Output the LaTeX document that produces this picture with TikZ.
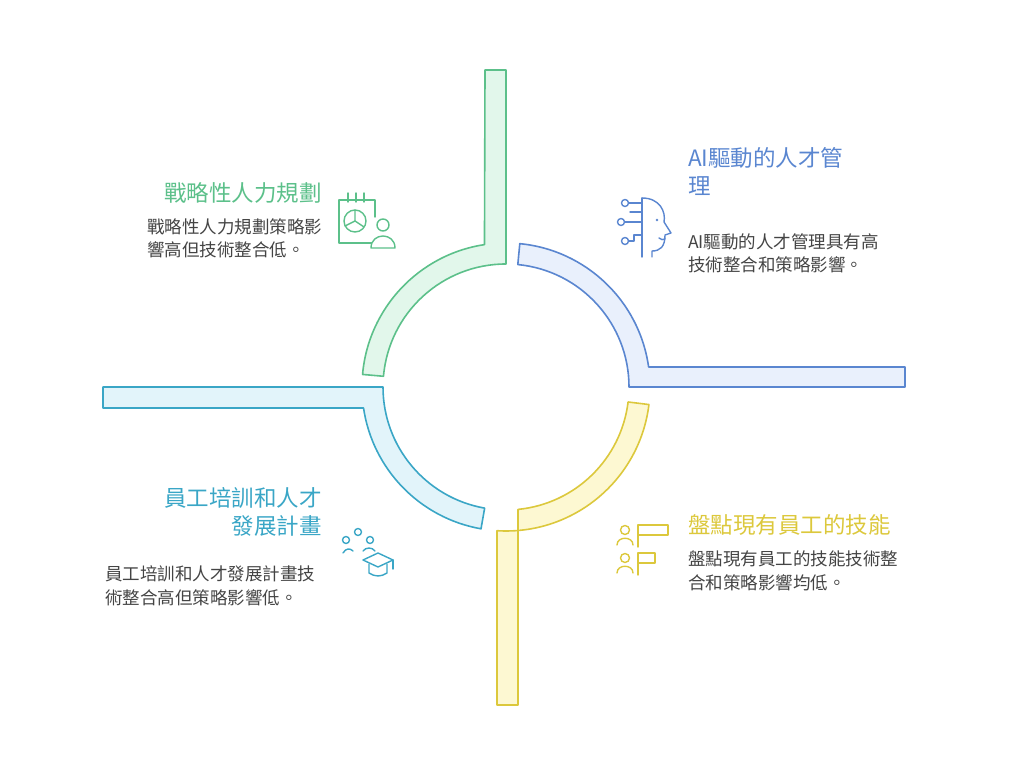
\documentclass[tikz,border=0pt]{standalone}
\usepackage{fontspec}
\setmainfont{Noto Sans CJK TC}
\usetikzlibrary{calc}
\definecolor{grn}{HTML}{5CC08A}
\definecolor{grnf}{HTML}{E2F7EB}
\definecolor{blu}{HTML}{5A86D0}
\definecolor{bluf}{HTML}{E9F0FC}
\definecolor{yel}{HTML}{DCC83C}
\definecolor{yelf}{HTML}{FDF8D2}
\definecolor{cyn}{HTML}{3AA6C6}
\definecolor{cynf}{HTML}{E2F4FA}
\definecolor{txt}{HTML}{444444}
\tikzset{
  ring/.style={line width=1.6pt, line join=round},
  icon/.style={line width=1.4pt, line cap=round, line join=round},
  title/.style={font=\fontsize{22.5}{28}\selectfont, inner sep=0pt},
  desc/.style={font=\fontsize{17.5}{23.5}\selectfont, text=txt, align=left, inner sep=0pt}
}
\begin{document}
\begin{tikzpicture}[x=1pt,y=1pt]
  \useasboundingbox (0,0) rectangle (1024,765);
  \coordinate (C) at (506,378);

  % strategic planning (green)
  \draw[ring, draw=grn, fill=grnf] (485,695) -- (506,695) -- (506,501)
    arc[start angle=90, end angle=175, radius=123] -- ($(C)+(175:144)$)
    arc[start angle=175, end angle=98.6, radius=144] -- cycle;

  % AI talent management (blue)
  \draw[ring, draw=blu, fill=bluf] ($(C)+(84.5:123)$)
    arc[start angle=84.5, end angle=0, radius=123] -- (905,378) -- (905,398)
    -- ($(C)+(8:144)$) arc[start angle=8, end angle=84.5, radius=144] -- cycle;

  % training (cyan)
  \draw[ring, draw=cyn, fill=cynf] ($(C)+(180:123)$) -- (103,378) -- (103,357)
    -- ($(C)+(188.4:144)$) arc[start angle=188.4, end angle=260, radius=144]
    -- ($(C)+(260:123)$) arc[start angle=260, end angle=180, radius=123] -- cycle;

  % inventory (yellow)
  \draw[ring, draw=yel, fill=yelf] ($(C)+(-7:123)$)
    arc[start angle=-7, end angle=-84.4, radius=123] -- (518,60) -- (497,60)
    -- ($(C)+(-93.6:144)$) arc[start angle=-93.6, end angle=-7, radius=144] -- cycle;

  % texts
  \node[title, text=grn, anchor=east] (t1) at (322,572) {戰略性人力規劃};
  \node[desc, anchor=north west] (d1) at (147,547) {戰略性人力規劃策略影\\響高但技術整合低。};
  \node[title, text=blu, anchor=north west, align=left] (t2) at (688,618) {AI驅動的人才管\\理};
  \node[desc, anchor=north west] (d2) at (688,532) {AI驅動的人才管理具有高\\技術整合和策略影響。};
  \node[title, text=cyn, anchor=east, align=right] (t3) at (322,253.5) {員工培訓和人才\\發展計畫};
  \node[desc, anchor=north west] (d3) at (105,199) {員工培訓和人才發展計畫技\\術整合高但策略影響低。};
  \node[title, text=yel, anchor=west] (t4) at (688,240) {盤點現有員工的技能};
  \node[desc, anchor=north west] (d4) at (688,214) {盤點現有員工的技能技術整\\合和策略影響均低。};

  % icon: calendar with chart and person
  \begin{scope}[icon, draw=grn]
    \draw (339,565) -- (339,522) -- (372,522);
    \draw (339,565) -- (375,565) -- (375,548);
    \foreach \x in {348,356,364} \draw (\x,563) -- (\x,572);
    \draw (355,544) circle (11);
    \draw (355,555) -- (355,544) -- (345,539);
    \draw (355,544) -- (364,538);
    \draw[fill=white] (383,540) circle (6);
    \draw[fill=white] (371,517) .. controls (371,533) and (395,533) .. (395,517) -- cycle;
  \end{scope}

  % icon: AI head
  \begin{scope}[icon, draw=blu]
    \draw (642,567) -- (642,508);
    \draw (642,567) .. controls (660,567) and (666,553) .. (664,543)
      -- (671,532) -- (665,530) .. controls (665,518) and (660,514) .. (652,514)
      -- (652,508);
    \fill[blu] (657,545) circle (1.3);
    \draw (659,527) .. controls (661,525) and (663,525) .. (665,526);
    \draw (625,562) circle (3.5); \draw (628.5,562) -- (642,562);
    \draw (621,543) circle (3.5); \draw (624.5,543) -- (642,543);
    \draw (625,524) circle (3.5); \draw (628.5,524) -- (634,524) -- (634,530) -- (642,530);
    \draw (630,553) -- (642,553);
  \end{scope}

  % icon: training dots and cap
  \begin{scope}[icon, draw=cyn]
    \draw (346,225) circle (3.5);
    \draw (358,233) circle (3.5);
    \draw (370,225) circle (3.5);
    \draw (343,212) .. controls (346,217) and (350,217) .. (353,214);
    \draw (363,214) .. controls (366,218) and (372,218) .. (375,214);
    \draw[fill=white] (363,205) -- (378,212) -- (393,205) -- (378,198) -- cycle;
    \draw (369,201) -- (369,192) .. controls (375,188) and (381,188) .. (387,192) -- (387,201);
    \draw (393,205) -- (393,196);
  \end{scope}

  % icon: staff inventory
  \begin{scope}[icon, draw=yel]
    \draw (625,235) circle (4.5);
    \draw (617,220) .. controls (617,229) and (633,229) .. (633,220);
    \draw (625,207) circle (4.5);
    \draw (617,192) .. controls (617,201) and (633,201) .. (633,192);
    \draw (638,218) -- (638,240) -- (668,240) -- (668,230) -- (638,230);
    \draw (638,190) -- (638,212) -- (655,212) -- (655,202) -- (638,202);
  \end{scope}
\end{tikzpicture}
\end{document}
